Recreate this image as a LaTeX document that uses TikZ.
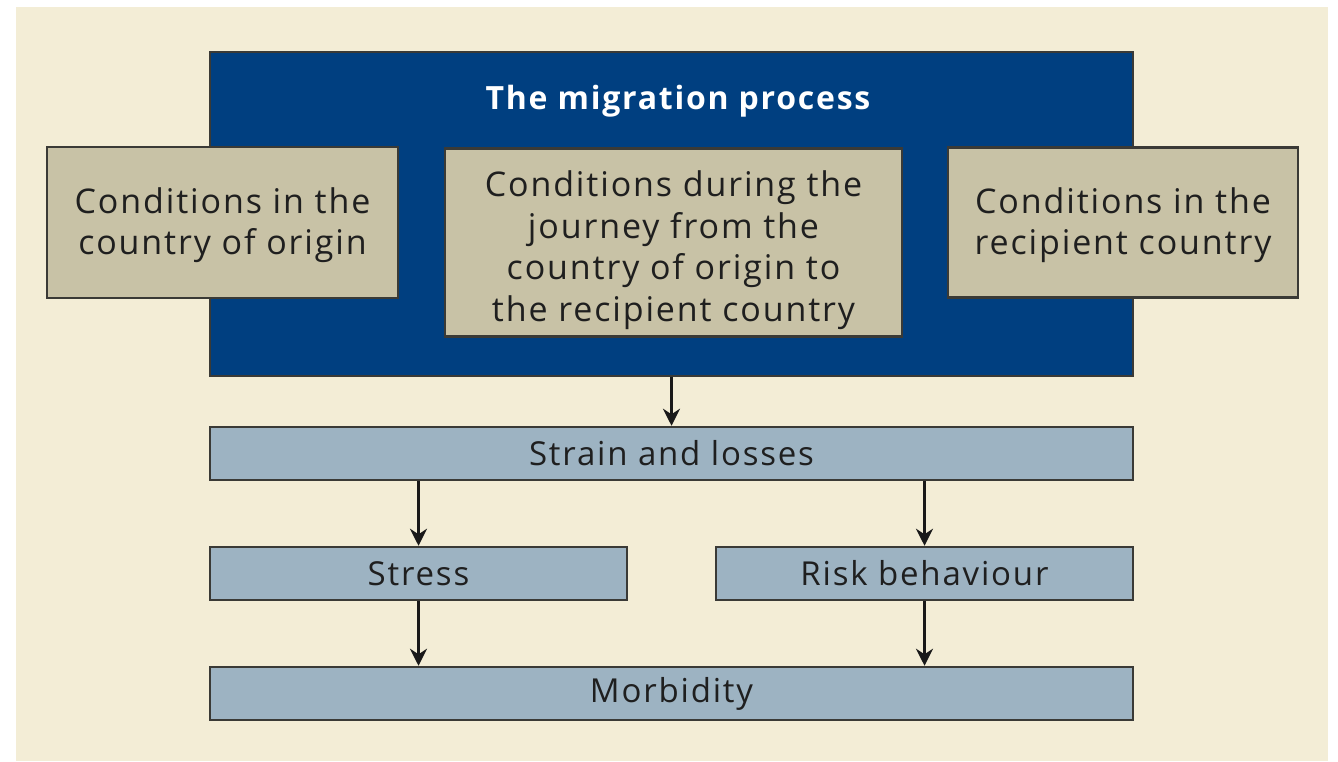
\documentclass[tikz,border=0pt]{standalone}
\usepackage{fontspec}
\setmainfont{Open Sans}[LetterSpace=5.5]
\usepackage{tikz}
\usetikzlibrary{arrows.meta, positioning}

\definecolor{paper}{HTML}{F3EDD6}
\definecolor{navy}{HTML}{003F80}
\definecolor{sand}{HTML}{C8C2A6}
\definecolor{steel}{HTML}{9DB3C2}
\definecolor{edge}{HTML}{3A3A36}

% stage text, set a little below the box centre
\newcommand{\stagetext}[2]{\raisebox{-#1}[\height][\depth]{\begin{tabular}{@{}c@{}}#2\end{tabular}}}

\tikzset{
    stage/.style={draw=edge, line width=2.5pt, fill=sand, align=center,
        inner sep=0pt, font=\fontsize{34}{41.5}\selectfont, text=black!88},
    effect/.style={draw=edge, line width=2.5pt, fill=steel, align=center,
        inner sep=0pt, minimum height=53pt, font=\fontsize{33}{38}\selectfont, text=black!88},
    flow/.style={->, line width=2.8pt, draw=black!90}
}

\begin{document}
\begin{tikzpicture}[x=1pt, y=-1pt, >={Stealth[length=17pt, width=17pt]}]
    % page and cream panel
    \fill[white] (0,0) rectangle (1338,761);
    \fill[paper] (16,7) rectangle (1328,761);

    % migration block with its three stages
    \node[draw=edge, line width=1.5pt, fill=navy, inner sep=0pt,
        minimum width=923pt, minimum height=324pt] (process) at (671.5,214) {};
    \node[text=white, font=\bfseries\fontsize{32}{36}\selectfont] (title) at (678,101) {The migration process};
    \node[stage, minimum width=351pt, minimum height=151pt] (origin) at (222.5,222.5)
        {\stagetext{3pt}{Conditions in the\\country of origin}};
    \node[stage, minimum width=457pt, minimum height=188pt] (journey) at (673.5,242.5)
        {\stagetext{8pt}{Conditions during the\\journey from the\\country of origin to\\the recipient country}};
    \node[stage, minimum width=350pt, minimum height=150pt] (recipient) at (1123,222.5)
        {\stagetext{3pt}{Conditions in the\\recipient country}};

    % consequences
    \node[effect, minimum width=923pt] (strain) at (671.5,453.5) {Strain and losses};
    \node[effect, minimum width=417pt] (stress) at (418.5,573.5) {Stress};
    \node[effect, minimum width=417pt] (risk) at (924.5,573.5) {Risk behaviour};
    \node[effect, minimum width=923pt] (morbidity) at (671.5,693.5) {Morbidity};

    \draw[flow] (process.south) -- (strain.north);
    \draw[flow] (strain.south -| stress.north) -- (stress.north);
    \draw[flow] (strain.south -| risk.north) -- (risk.north);
    \draw[flow] (stress.south) -- (morbidity.north -| stress.south);
    \draw[flow] (risk.south) -- (morbidity.north -| risk.south);
\end{tikzpicture}
\end{document}
